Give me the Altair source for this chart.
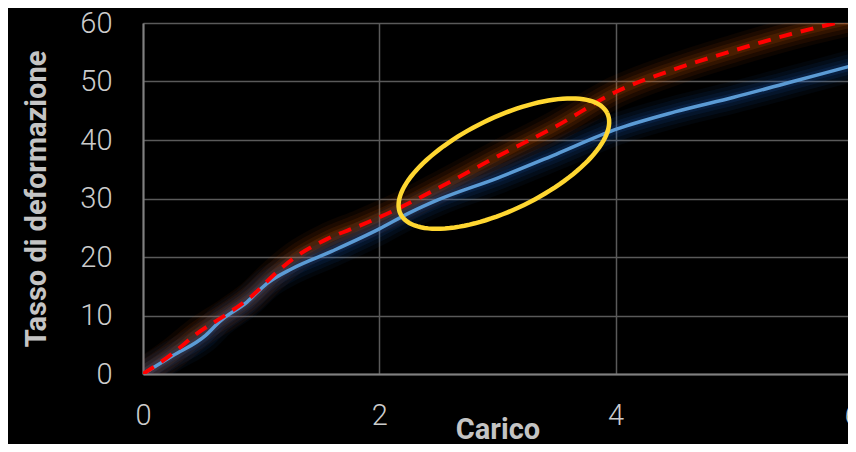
import altair as alt
import numpy as np
import pandas as pd

# ---- data ----
carico_blu = [0, 0.25, 0.53, 0.65, 0.88, 1.05, 1.26, 1.6, 2.0, 2.25, 2.5, 3.0, 3.5, 4.0, 4.5, 5.0, 5.5, 6.0]
tasso_blu = [0, 3.1, 6.6, 9.0, 12.3, 15.5, 18.0, 21.0, 24.8, 27.5, 29.8, 33.5, 37.6, 41.8, 44.8, 47.3, 50.0, 52.7]

carico_rosso = [0, 0.25, 0.45, 0.73, 0.92, 1.12, 1.29, 1.56, 1.84, 2.12, 2.5, 3.0, 3.5, 4.0, 4.5, 5.0, 5.5, 6.0]
tasso_rosso = [0, 3.5, 6.8, 10.5, 13.3, 17.2, 20.0, 23.1, 25.4, 27.9, 31.8, 37.2, 42.4, 48.2, 52.1, 55.3, 58.2, 60.6]

x_ticks = [0, 2, 4, 6]
y_ticks = [0, 10, 20, 30, 40, 50, 60]

# annotation ellipse (centre in data units, axes in pixels)
ell_center = (3.054, 35.97)
ell_axes_px = (115, 46)
ell_angle_deg = 26

X_RANGE = 709          # pixel length of the 0..6 axis (runs up to the page edge)
W, H = 705, 351        # visible plot area
X_MAX, Y_MAX = 6, 60

blu = pd.DataFrame({"x": carico_blu, "y": tasso_blu})
rosso = pd.DataFrame({"x": carico_rosso, "y": tasso_rosso})

t = np.linspace(0, 2 * np.pi, 121)
th = np.deg2rad(ell_angle_deg)
a, b = ell_axes_px
dx = a * np.cos(t) * np.cos(th) - b * np.sin(t) * np.sin(th)
dy = a * np.cos(t) * np.sin(th) + b * np.sin(t) * np.cos(th)
ell = pd.DataFrame({
    "x": ell_center[0] + dx / (X_RANGE / X_MAX),
    "y": ell_center[1] + dy / (H / Y_MAX),
    "i": np.arange(len(t)),
})

xs = alt.Scale(domain=[0, X_MAX], range=[0, X_RANGE], nice=False)
ys = alt.Scale(domain=[0, Y_MAX], nice=False)

x_enc = alt.X("x:Q", scale=xs, axis=alt.Axis(
    values=x_ticks, title="Carico", labelPadding=27, titleY=41, titleX=X_RANGE / 2,
    labelFlush=False,
))
y_enc = alt.Y("y:Q", scale=ys, axis=alt.Axis(
    values=y_ticks, title="Tasso di deformazione", labelPadding=31,
    titleX=-92, titleY=H / 2, titleBaseline="bottom", titleAngle=270,
))


def glow(df, color, widths_ops):
    layers = []
    for w, o in widths_ops:
        layers.append(
            alt.Chart(df).mark_line(
                color=color, strokeWidth=w, opacity=o, clip=True,
                interpolate="monotone", strokeCap="round", strokeJoin="round",
            ).encode(x=x_enc, y=y_enc)
        )
    return layers


glow_levels = [(32, 0.05), (24, 0.07), (16, 0.09), (9, 0.12)]
layers = []
layers += glow(rosso, "#ff6a00", glow_levels)
layers += glow(blu, "#1f6fe0", glow_levels)

line_blu = alt.Chart(blu).mark_line(
    color="#5b9bd5", strokeWidth=3.5, clip=True, interpolate="monotone",
).encode(x=x_enc, y=y_enc)

line_rosso = alt.Chart(rosso).mark_line(
    color="#ff0000", strokeWidth=4, strokeDash=[13, 9], clip=True,
    interpolate="monotone",
).encode(x=x_enc, y=y_enc)

ellisse = alt.Chart(ell).mark_line(
    color="#ffd731", strokeWidth=4.5, interpolate="linear",
).encode(x=x_enc, y=y_enc, order="i:Q")

chart = alt.layer(*layers, line_blu, line_rosso, ellisse).properties(
    width=W, height=H,
    background="#000000",
    autosize=alt.AutoSizeParams(type="none"),
    padding={"left": 135, "top": 15, "right": 0, "bottom": 70},
).configure_axis(
    labelFont="Roboto", labelFontWeight=300, labelFontSize=29, labelColor="#cccccc",
    titleFont="Roboto", titleFontWeight="bold", titleFontSize=29, titleColor="#c4c4c4",
    gridColor="#5a5a5a", gridWidth=1.5, domainColor="#808080", domainWidth=2,
    ticks=False,
).configure_view(strokeWidth=0)

chart.save("out.html", embed_options={"renderer": "svg", "actions": False})
